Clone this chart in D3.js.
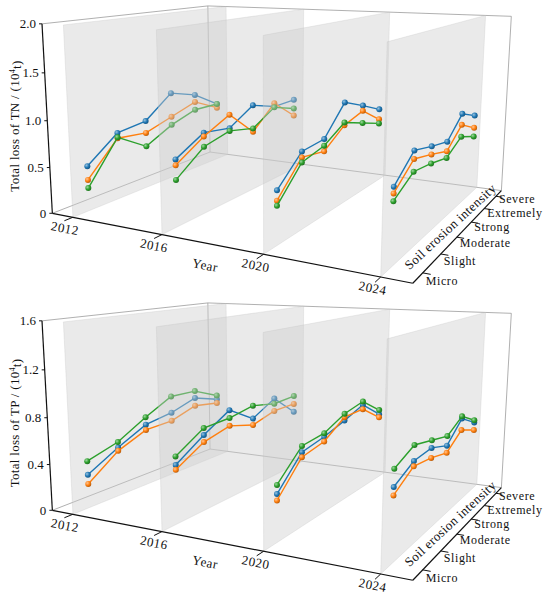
<!DOCTYPE html>
<html>
<head>
<meta charset="utf-8">
<script src="https://cdn.jsdelivr.net/npm/d3@7"></script>
<style>
  body { margin: 0; background: #fff; }
  text { font-family: "Liberation Serif", "DejaVu Serif", serif; fill: #111; }
</style>
</head>
<body>
<div id="chart"></div>
<script>

var svgWidth = 550;
var svgHeight = 596;

var years = [2012, 2016, 2020, 2024];
var intensities = ["Micro", "Slight", "Moderate", "Strong", "Extremely", "Severe"];
var seriesColors = ["#1f77b4", "#ff7f0e", "#2ca02c"];

// one row per year, one value per intensity (Micro -> Severe)
var tnBlue = [
  [0.49, 0.75, 0.79, 1.04, 0.94, 0.74],
  [0.70, 0.87, 0.82, 0.99, 0.89, 0.89],
  [0.54, 0.80, 0.82, 1.12, 1.00, 0.87],
  [0.73, 0.94, 0.87, 0.81, 1.01, 0.90]
];
var tnOrange = [
  [0.34, 0.69, 0.65, 0.75, 0.85, 0.69],
  [0.64, 0.83, 0.97, 0.68, 0.93, 0.69],
  [0.44, 0.74, 0.69, 0.87, 0.94, 0.75],
  [0.67, 0.86, 0.79, 0.71, 0.89, 0.76]
];
var tnGreen = [
  [0.25, 0.70, 0.49, 0.65, 0.75, 0.74],
  [0.49, 0.72, 0.79, 0.72, 0.88, 0.78],
  [0.39, 0.69, 0.75, 0.90, 0.80, 0.70],
  [0.60, 0.74, 0.70, 0.64, 0.76, 0.66]
];

var tpBlue = [
  [0.29, 0.44, 0.57, 0.61, 0.69, 0.61],
  [0.49, 0.65, 0.79, 0.64, 0.76, 0.56],
  [0.38, 0.61, 0.65, 0.71, 0.78, 0.62],
  [0.56, 0.65, 0.66, 0.59, 0.74, 0.63]
];
var tpOrange = [
  [0.21, 0.41, 0.52, 0.53, 0.61, 0.57],
  [0.45, 0.59, 0.65, 0.58, 0.64, 0.64],
  [0.33, 0.57, 0.61, 0.74, 0.74, 0.59],
  [0.50, 0.61, 0.58, 0.53, 0.64, 0.56]
];
var tpGreen = [
  [0.41, 0.49, 0.64, 0.77, 0.76, 0.65],
  [0.56, 0.71, 0.72, 0.76, 0.71, 0.72],
  [0.45, 0.66, 0.68, 0.77, 0.81, 0.66],
  [0.69, 0.77, 0.72, 0.67, 0.76, 0.65]
];

var tnTicks = [0, 0.5, 1.0, 1.5, 2.0];
var tnTickLabels = ["0", "0.5", "1.0", "1.5", "2.0"];
var tpTicks = [0, 0.4, 0.8, 1.2, 1.6];
var tpTickLabels = ["0", "0.4", "0.8", "1.2", "1.6"];


/*
 * CAMERA
 * perspective projection of the unit box, fitted (least squares) on where
 * the box corners and year ticks sit in the picture
 * rows: [x, y(value), z(depth), screenX, screenY]
 */
var anchors = [
  [0, 0, 0, 52.7, 214],
  [1, 0, 0, 415, 283],
  [1, 0, 1, 501, 192],
  [0, 0, 1, 210, 151.7],
  [0, 1, 0, 41.5, 25],
  [0, 1, 1, 208.5, 5.3],
  [1, 1, 1, 511, 16],
  [1 / 14, 0, 0, 72.7, 217.1],
  [5 / 14, 0, 0, 161.7, 234.2],
  [9 / 14, 0, 0, 263, 253.7],
  [13 / 14, 0, 0, 380, 276.2]
];

function fitProjection(pts) {
  var A = [], b = [];
  pts.forEach(function(p) {
    var X = p[0], Y = p[1], Z = p[2], u = p[3], v = p[4];
    A.push([X, Y, Z, 1, 0, 0, 0, 0, -u * X, -u * Y, -u * Z]); b.push(u);
    A.push([0, 0, 0, 0, X, Y, Z, 1, -v * X, -v * Y, -v * Z]); b.push(v);
  });
  var n = 11, M = [];
  for (var i = 0; i < n; i++) {
    M.push([]);
    for (var j = 0; j <= n; j++) {
      var s = 0;
      for (var k = 0; k < A.length; k++) s += A[k][i] * (j < n ? A[k][j] : b[k]);
      M[i].push(s);
    }
  }
  for (var c = 0; c < n; c++) {
    var piv = c;
    for (var r = c + 1; r < n; r++) if (Math.abs(M[r][c]) > Math.abs(M[piv][c])) piv = r;
    var tmp = M[c]; M[c] = M[piv]; M[piv] = tmp;
    for (var r2 = 0; r2 < n; r2++) {
      if (r2 === c) continue;
      var f = M[r2][c] / M[c][c];
      for (var j2 = c; j2 <= n; j2++) M[r2][j2] -= f * M[c][j2];
    }
  }
  return M.map(function(row, i) { return row[n] / row[i]; });
}

var P = fitProjection(anchors);

function project(X, Y, Z) {
  var w = P[8] * X + P[9] * Y + P[10] * Z + 1;
  return [(P[0] * X + P[1] * Y + P[2] * Z + P[3]) / w,
          (P[4] * X + P[5] * Y + P[6] * Z + P[7]) / w];
}


var svg = d3.select("#chart")
  .append("svg")
  .attr("width", svgWidth)
  .attr("height", svgHeight);

// shaded balls for the markers
var defs = svg.append("defs");
seriesColors.forEach(function(col, i) {
  var grad = defs.append("radialGradient")
    .attr("id", "ball" + i)
    .attr("cx", "35%").attr("cy", "35%").attr("r", "70%");
  grad.append("stop").attr("offset", "0%").attr("stop-color", d3.interpolateRgb(col, "#fff")(0.55));
  grad.append("stop").attr("offset", "55%").attr("stop-color", col);
  grad.append("stop").attr("offset", "100%").attr("stop-color", d3.color(col).darker(1));
});

var line = d3.line().x(d => d[0]).y(d => d[1]);


function drawChart(top, titleName, ticks, tickLabels, yMax, series) {

  var g = svg.append("g").attr("transform", `translate(0, ${top})`);

  var xScale = d3.scaleLinear().domain([2011, 2025]).range([0, 1]);
  var yScale = d3.scaleLinear().domain([0, yMax]).range([0, 1]);
  var zScale = d3.scaleLinear().domain([-0.5, 5.5]).range([0, 1]);

  function pt(yr, v, d) { return project(xScale(yr), yScale(v), zScale(d)); }

  // back frame of the box
  var frame = [
    [[2011, 0, -0.5], [2011, 0, 5.5]],
    [[2011, 0, 5.5], [2025, 0, 5.5]],
    [[2011, 0, 5.5], [2011, yMax, 5.5]],
    [[2011, yMax, -0.5], [2011, yMax, 5.5]],
    [[2011, yMax, 5.5], [2025, yMax, 5.5]],
    [[2025, 0, 5.5], [2025, yMax, 5.5]]
  ];
  g.selectAll(".frame")
    .data(frame)
    .enter()
    .append("path")
    .attr("d", d => line(d.map(p => pt(p[0], p[1], p[2]))))
    .attr("fill", "none")
    .attr("stroke", "#9c9c9c")
    .attr("stroke-width", 0.8);

  // one wall per year, back to front, with its lines on it
  years.forEach(function(yr, yi) {

    var corners = [[yr, 0, -0.5], [yr, 0, 5.5], [yr, yMax, 5.5], [yr, yMax, -0.5]];
    g.append("path")
      .attr("d", line(corners.map(p => pt(p[0], p[1], p[2]))) + "Z")
      .attr("fill", "#cdcdcd")
      .attr("fill-opacity", 0.42)
      .attr("stroke", "#c4c4c4")
      .attr("stroke-opacity", 0.6)
      .attr("stroke-width", 0.5);

    series.forEach(function(vals, si) {
      var pts = intensities.map((name, i) => pt(yr, vals[yi][i], i));

      g.append("path")
        .attr("d", line(pts))
        .attr("fill", "none")
        .attr("stroke", seriesColors[si])
        .attr("stroke-width", 1.4);

      g.selectAll(null)
        .data(pts)
        .enter()
        .append("circle")
        .attr("cx", d => d[0])
        .attr("cy", d => d[1])
        .attr("r", 3)
        .attr("fill", `url(#ball${si})`);
    });
  });

  /*
   * AXES
   */
  var axes = [
    [[2011, 0, -0.5], [2011, yMax, -0.5]],
    [[2011, 0, -0.5], [2025, 0, -0.5]],
    [[2025, 0, -0.5], [2025, 0, 5.5]]
  ];
  g.selectAll(".axis")
    .data(axes)
    .enter()
    .append("path")
    .attr("d", d => line(d.map(p => pt(p[0], p[1], p[2]))))
    .attr("fill", "none")
    .attr("stroke", "#111")
    .attr("stroke-width", 1.2);

  // value axis
  ticks.forEach(function(t, i) {
    var p = pt(2011, t, -0.5);
    g.append("line")
      .attr("x1", p[0]).attr("y1", p[1])
      .attr("x2", p[0] - 3).attr("y2", p[1])
      .attr("stroke", "#111");
    g.append("text")
      .attr("x", p[0] - 6)
      .attr("y", p[1])
      .attr("dy", "0.35em")
      .attr("text-anchor", "end")
      .style("font-size", "13px")
      .text(tickLabels[i]);
  });

  var title = g.append("text")
    .attr("transform", "translate(19, 126) rotate(-90)")
    .attr("text-anchor", "middle")
    .style("font-size", "13px")
    .style("letter-spacing", "0.3px");
  title.append("tspan").text(`Total loss of ${titleName} / (10`);
  title.append("tspan").attr("dy", "-0.45em").style("font-size", "8px").text("4");
  title.append("tspan").attr("dy", "0.45em").text("t)");

  // year axis
  function angleAt(yr) {
    var a = pt(yr - 0.5, 0, -0.5), b = pt(yr + 0.5, 0, -0.5);
    return Math.atan2(b[1] - a[1], b[0] - a[0]) * 180 / Math.PI;
  }
  years.forEach(function(yr) {
    var p = pt(yr, 0, -0.5), q = pt(yr, 0, -0.75);
    g.append("line")
      .attr("x1", p[0]).attr("y1", p[1])
      .attr("x2", q[0]).attr("y2", q[1])
      .attr("stroke", "#111");
    g.append("text")
      .attr("transform", `translate(${p[0] - 8}, ${p[1] + 11}) rotate(${angleAt(yr)})`)
      .attr("text-anchor", "middle")
      .attr("dy", "0.35em")
      .style("font-size", "13px")
      .style("letter-spacing", "0.5px")
      .text(yr);
  });
  var yl = pt(2018, 0, -0.5);
  g.append("text")
    .attr("transform", `translate(${yl[0] - 6}, ${yl[1] + 21}) rotate(${angleAt(2018)})`)
    .attr("text-anchor", "middle")
    .attr("dy", "0.35em")
    .style("font-size", "13px")
    .style("letter-spacing", "0.5px")
    .text("Year");

  // intensity axis
  intensities.forEach(function(name, i) {
    var p = pt(2025, 0, i), q = pt(2025.25, 0, i);
    g.append("line")
      .attr("x1", p[0]).attr("y1", p[1])
      .attr("x2", q[0]).attr("y2", q[1])
      .attr("stroke", "#111");
    g.append("text")
      .attr("x", p[0] + 3)
      .attr("y", p[1] + 7.5 - 0.9 * i)
      .attr("dy", "0.35em")
      .style("font-size", "12px")
      .style("letter-spacing", "0.6px")
      .text(name);
  });
  var a0 = pt(2025, 0, -0.5), a1 = pt(2025, 0, 5.5), am = pt(2025, 0, 2.5);
  var ang = Math.atan2(a1[1] - a0[1], a1[0] - a0[0]) * 180 / Math.PI + 3.5;
  g.append("text")
    .attr("transform", `translate(${am[0] - 14}, ${am[1] - 3}) rotate(${ang})`)
    .attr("text-anchor", "middle")
    .attr("dy", "0.35em")
    .style("font-size", "13px")
    .style("letter-spacing", "0.4px")
    .text("Soil erosion intensity");
}

drawChart(0, "TN", tnTicks, tnTickLabels, 2.0, [tnBlue, tnOrange, tnGreen]);
drawChart(297, "TP", tpTicks, tpTickLabels, 1.6, [tpBlue, tpOrange, tpGreen]);

</script>
</body>
</html>
